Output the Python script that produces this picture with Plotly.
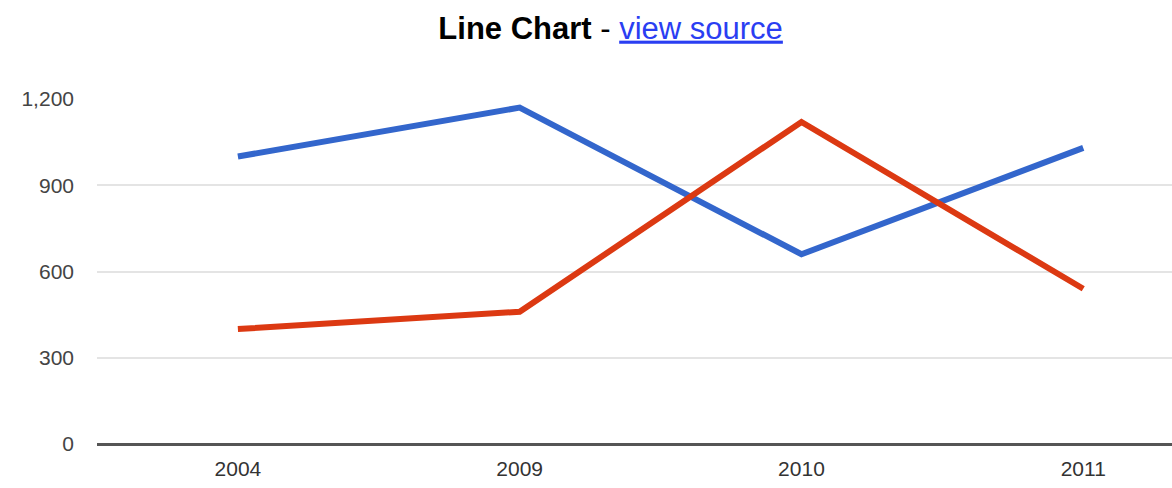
import plotly.graph_objects as go

years = ["2004", "2009", "2010", "2011"]
sales = [1000, 1170, 660, 1030]
expenses = [400, 460, 1120, 540]
y_ticks = [0, 300, 600, 900, 1200]
y_tick_labels = ["0", "300", "600", "900", "1,200"]

fig = go.Figure()
fig.add_trace(go.Scatter(x=years, y=sales, mode="lines", name="Sales",
                         line=dict(color="#3366CC", width=6)))
fig.add_trace(go.Scatter(x=years, y=expenses, mode="lines", name="Expenses",
                         line=dict(color="#DC3912", width=6)))

fig.update_layout(
    width=1172, height=488,
    margin=dict(l=97, r=0, t=99, b=44),
    paper_bgcolor="white", plot_bgcolor="white",
    showlegend=False,
    font=dict(family="Liberation Sans, Arial, sans-serif", color="#444444", size=21),
    title=dict(
        text="<b>Line Chart</b> - <span style='color:#2a3ef2'><u>view source</u></span>",
        x=0.521, xanchor="center", y=0.943, yanchor="middle",
        font=dict(size=31, color="#000000", family="Liberation Sans, Arial, sans-serif"),
    ),
    xaxis=dict(
        type="category", range=[-0.5, 3.315],
        showgrid=False, showline=False, ticks="", zeroline=False,
        ticklabelstandoff=10,
        tickfont=dict(size=21, color="#333333"),
    ),
    yaxis=dict(
        range=[0, 1200], tickvals=y_ticks, ticktext=y_tick_labels,
        showgrid=True, gridcolor="#e4e4e4", gridwidth=2,
        zeroline=True, zerolinecolor="#555555", zerolinewidth=2.5,
        showline=False, ticks="", ticklabelstandoff=22,
        tickfont=dict(size=21, color="#444444"),
    ),
)

fig.write_html("out.html")
